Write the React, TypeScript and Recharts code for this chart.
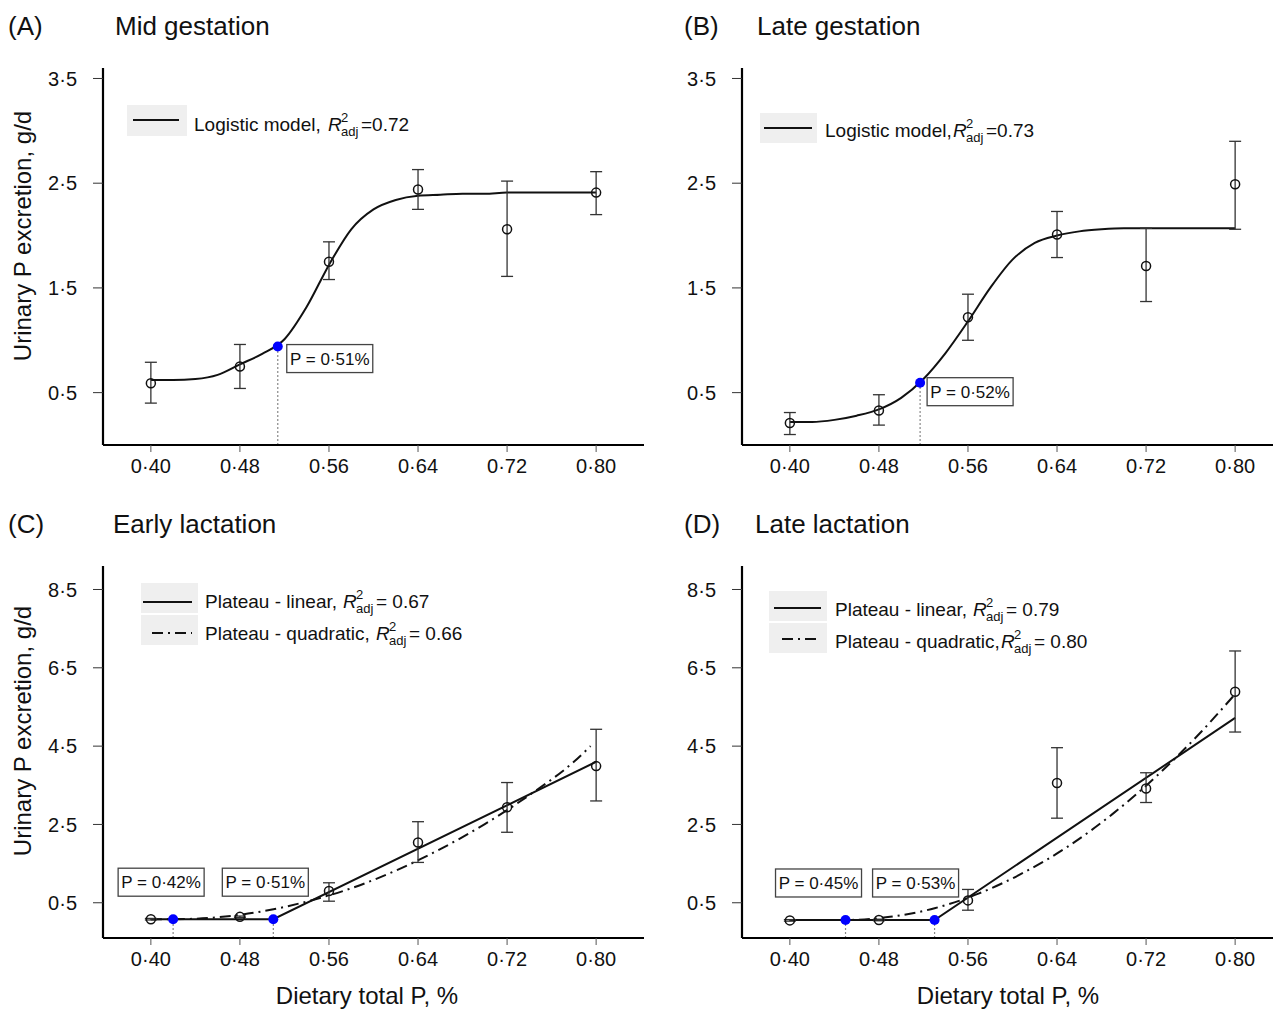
import React from 'react'
import { ComposedChart, XAxis, YAxis, Line, Scatter, ErrorBar, ReferenceLine } from 'recharts'

// dietary total P levels (%)
const dietP = [0.4, 0.48, 0.56, 0.64, 0.72, 0.8]
const xTicks = [0.4, 0.48, 0.56, 0.64, 0.72, 0.8]
const gestTicks = [0.5, 1.5, 2.5, 3.5]
const lactTicks = [0.5, 2.5, 4.5, 6.5, 8.5]

// observed urinary P, g/d (mean, lower and upper bar ends)
const midGestMean = [0.59, 0.75, 1.75, 2.44, 2.06, 2.41]
const midGestLow = [0.4, 0.54, 1.58, 2.25, 1.61, 2.2]
const midGestHigh = [0.79, 0.96, 1.94, 2.63, 2.52, 2.61]

const lateGestMean = [0.21, 0.33, 1.22, 2.01, 1.71, 2.49]
const lateGestLow = [0.1, 0.19, 1.0, 1.79, 1.37, 2.06]
const lateGestHigh = [0.31, 0.48, 1.44, 2.23, 2.07, 2.9]

const earlyLactMean = [0.08, 0.14, 0.8, 2.04, 2.94, 3.99]
const earlyLactLow = [0.06, 0.12, 0.54, 1.53, 2.3, 3.1]
const earlyLactHigh = [0.1, 0.16, 1.01, 2.57, 3.57, 4.93]

const lateLactMean = [0.05, 0.06, 0.56, 3.56, 3.42, 5.89]
const lateLactLow = [0.03, 0.04, 0.31, 2.66, 3.06, 4.86]
const lateLactHigh = [0.07, 0.08, 0.84, 4.46, 3.82, 6.93]

// fitted curves
const logisticX = [0.4, 0.42, 0.44, 0.46, 0.48, 0.5, 0.52, 0.54, 0.56, 0.58, 0.6, 0.62, 0.64, 0.66, 0.68, 0.7, 0.72, 0.74, 0.76, 0.78, 0.8]
const midGestFit = [0.62, 0.62, 0.63, 0.67, 0.77, 0.87, 1.01, 1.32, 1.72, 2.06, 2.25, 2.34, 2.38, 2.39, 2.4, 2.4, 2.41, 2.41, 2.41, 2.41, 2.41]
const lateGestFit = [0.22, 0.22, 0.24, 0.28, 0.34, 0.45, 0.63, 0.88, 1.18, 1.5, 1.77, 1.93, 2.0, 2.04, 2.06, 2.07, 2.07, 2.07, 2.07, 2.07, 2.07]

const earlyLinX = [0.4, 0.51, 0.8]
const earlyLinY = [0.08, 0.08, 4.1]
const earlyQuadX = [0.4, 0.42, 0.46, 0.5, 0.54, 0.58, 0.62, 0.66, 0.7, 0.74, 0.78, 0.795]
const earlyQuadY = [0.08, 0.08, 0.13, 0.28, 0.53, 0.87, 1.32, 1.87, 2.51, 3.25, 4.1, 4.5]

const lateLinX = [0.4, 0.53, 0.8]
const lateLinY = [0.06, 0.06, 5.22]
const lateQuadX = [0.4, 0.45, 0.49, 0.53, 0.57, 0.61, 0.65, 0.69, 0.73, 0.77, 0.8]
const lateQuadY = [0.06, 0.06, 0.14, 0.36, 0.74, 1.27, 1.94, 2.77, 3.75, 4.88, 5.83]

// breakpoints (x = P %, y = urinary P)
const midGestBreaks = [{ x: 0.514, y: 0.94, label: 'P = 0·51%' }]
const lateGestBreaks = [{ x: 0.517, y: 0.595, label: 'P = 0·52%' }]
const earlyLactBreaks = [{ x: 0.42, y: 0.08, label: 'P = 0·42%' }, { x: 0.51, y: 0.08, label: 'P = 0·51%' }]
const lateLactBreaks = [{ x: 0.45, y: 0.06, label: 'P = 0·45%' }, { x: 0.53, y: 0.06, label: 'P = 0·53%' }]

const FONT = '"Liberation Sans", Arial, sans-serif'
const DASHDOT = '11 5 2 5'

const pts = (xs: number[], ys: number[]) => xs.map((x, i) => ({ x, y: ys[i] }))
const obs = (mean: number[], lo: number[], hi: number[]) =>
  dietP.map((x, i) => ({ x, y: mean[i], err: [mean[i] - lo[i], hi[i] - mean[i]] }))

const fmtX = (v: number) => v.toFixed(2).replace('.', '·')
const fmtY = (v: number) => v.toFixed(1).replace('.', '·')

const OpenCircle = (p: any) => (
  <circle cx={p.cx} cy={p.cy} r={4.5} fill="none" stroke="#111" strokeWidth={1.5} />
)

function BreakShape(p: any) {
  const { cx, cy, payload } = p
  const { dx, dy } = payload
  return (
    <g>
      <circle cx={cx} cy={cy} r={5} fill="#0000ff" />
      <rect x={cx + dx} y={cy + dy} width={86} height={28} fill="#fff" stroke="#444" strokeWidth={1.3} />
      <text x={cx + dx + 43} y={cy + dy + 20} textAnchor="middle" fontSize={17} fontFamily={FONT} fill="#111">
        {payload.label}
      </text>
    </g>
  )
}

interface PanelProps {
  left: number
  top: number
  height: number
  marginTop: number
  xAxisHeight: number
  yAxisWidth: number
  yDomain: [number, number]
  yTicks: number[]
  observed: { x: number; y: number; err: number[] }[]
  solid: { x: number; y: number }[]
  solidType: 'monotone' | 'linear'
  dashed?: { x: number; y: number }[]
  breaks: { x: number; y: number; label: string; dx: number; dy: number }[]
}

function Panel(props: PanelProps) {
  const { left, top, height, marginTop, xAxisHeight, yAxisWidth, yDomain, yTicks, observed, solid, solidType, dashed, breaks } = props
  return (
    <div style={{ position: 'absolute', left, top }}>
      <ComposedChart width={yAxisWidth + 541} height={height} margin={{ top: marginTop, right: 0, bottom: 0, left: 0 }}>
        <XAxis dataKey="x" type="number" domain={[0.357, 0.843]} ticks={xTicks} tickFormatter={fmtX}
          axisLine={{ stroke: '#000', strokeWidth: 2.2 }} tickLine={{ stroke: '#555' }} tickSize={7} tickMargin={7}
          height={xAxisHeight} tick={{ fill: '#111', fontSize: 20, fontFamily: FONT }} allowDataOverflow />
        <YAxis dataKey="y" type="number" domain={yDomain} ticks={yTicks} tickFormatter={fmtY}
          axisLine={{ stroke: '#000', strokeWidth: 2.2 }} tickLine={{ stroke: '#333' }} tickSize={10} tickMargin={16}
          width={yAxisWidth} tick={{ fill: '#111', fontSize: 20, fontFamily: FONT }} allowDataOverflow />
        {breaks.map((b, i) => (
          <ReferenceLine key={i} segment={[{ x: b.x, y: yDomain[0] }, { x: b.x, y: b.y }]}
            stroke="#888" strokeDasharray="2 2" strokeWidth={1.2} />
        ))}
        {dashed && (
          <Line data={dashed} dataKey="y" type="monotone" stroke="#111" strokeWidth={2}
            strokeDasharray={DASHDOT} dot={false} isAnimationActive={false} />
        )}
        <Line data={solid} dataKey="y" type={solidType} stroke="#111" strokeWidth={2}
          dot={false} isAnimationActive={false} />
        <Scatter data={observed} dataKey="y" shape={OpenCircle} isAnimationActive={false}>
          <ErrorBar dataKey="err" direction="y" width={6} stroke="#333" strokeWidth={1.3} />
        </Scatter>
        <Scatter data={breaks} dataKey="y" shape={BreakShape} isAnimationActive={false} />
      </ComposedChart>
    </div>
  )
}

// legend label with italic R, superscript 2 and subscript adj stacked
function RLabel({ x, y, prefix, suffix, prefixWidth }: { x: number; y: number; prefix: string; suffix: string; prefixWidth: number }) {
  const t = { fontFamily: FONT, fill: '#111' }
  const rx = x + prefixWidth
  return (
    <g>
      <text x={x} y={y} fontSize={19} {...t}>{prefix}</text>
      <text x={rx} y={y} fontSize={19} fontStyle="italic" {...t}>R</text>
      <text x={rx + 13} y={y - 9} fontSize={13} {...t}>2</text>
      <text x={rx + 13} y={y + 5} fontSize={13} {...t}>adj</text>
      <text x={rx + 33} y={y} fontSize={19} {...t}>{suffix}</text>
    </g>
  )
}

function Overlay() {
  const title = { fontSize: 26, fontFamily: FONT, fill: '#111' }
  const axisTitle = { fontSize: 24, fontFamily: FONT, fill: '#111' }
  return (
    <svg width={1273} height={1010} style={{ position: 'absolute', left: 0, top: 0, pointerEvents: 'none' }}>
      <text x={8} y={35} {...title}>(A)</text>
      <text x={115} y={35} {...title}>Mid gestation</text>
      <text x={684} y={35} {...title}>(B)</text>
      <text x={757} y={35} {...title}>Late gestation</text>
      <text x={8} y={533} {...title}>(C)</text>
      <text x={113} y={533} {...title}>Early lactation</text>
      <text x={684} y={533} {...title}>(D)</text>
      <text x={755} y={533} {...title}>Late lactation</text>

      <text x={31} y={236} textAnchor="middle" transform="rotate(-90 31 236)" {...axisTitle}>Urinary P excretion, g/d</text>
      <text x={31} y={731} textAnchor="middle" transform="rotate(-90 31 731)" {...axisTitle}>Urinary P excretion, g/d</text>
      <text x={367} y={1004} textAnchor="middle" {...axisTitle}>Dietary total P, %</text>
      <text x={1008} y={1004} textAnchor="middle" {...axisTitle}>Dietary total P, %</text>

      {/* legend A */}
      <rect x={127} y={105} width={60} height={31} fill="#efefef" />
      <line x1={133} x2={179} y1={120} y2={120} stroke="#111" strokeWidth={2} />
      <RLabel x={194} y={131} prefix="Logistic model," prefixWidth={134} suffix="=0.72" />
      {/* legend B */}
      <rect x={760} y={113} width={57} height={30} fill="#efefef" />
      <line x1={764} x2={812} y1={128} y2={128} stroke="#111" strokeWidth={2} />
      <RLabel x={825} y={137} prefix="Logistic model," prefixWidth={128} suffix="=0.73" />
      {/* legend C */}
      <rect x={141} y={583} width={57} height={30} fill="#efefef" />
      <rect x={141} y={615} width={57} height={30} fill="#efefef" />
      <line x1={143} x2={192} y1={602} y2={602} stroke="#111" strokeWidth={2} />
      <line x1={152} x2={192} y1={633} y2={633} stroke="#111" strokeWidth={2} strokeDasharray={DASHDOT} />
      <RLabel x={205} y={608} prefix="Plateau - linear," prefixWidth={138} suffix="= 0.67" />
      <RLabel x={205} y={640} prefix="Plateau - quadratic," prefixWidth={171} suffix="= 0.66" />
      {/* legend D */}
      <rect x={769} y={591} width={58} height={30} fill="#efefef" />
      <rect x={769} y={623} width={58} height={30} fill="#efefef" />
      <line x1={774} x2={821} y1={608} y2={608} stroke="#111" strokeWidth={2} />
      <line x1={782} x2={821} y1={639} y2={639} stroke="#111" strokeWidth={2} strokeDasharray={DASHDOT} />
      <RLabel x={835} y={616} prefix="Plateau - linear," prefixWidth={138} suffix="= 0.79" />
      <RLabel x={835} y={648} prefix="Plateau - quadratic," prefixWidth={166} suffix="= 0.80" />
    </svg>
  )
}

export default function App() {
  return (
    <div style={{ position: 'absolute', left: 0, top: 0, width: 1273, height: 1010, overflow: 'hidden', background: '#fff', fontFamily: FONT }}>
      <Panel left={0} top={0} height={500} marginTop={68} xAxisHeight={55} yAxisWidth={103}
        yDomain={[0, 3.6]} yTicks={gestTicks}
        observed={obs(midGestMean, midGestLow, midGestHigh)}
        solid={pts(logisticX, midGestFit)} solidType="monotone"
        breaks={midGestBreaks.map((b) => ({ ...b, dx: 9, dy: -2 }))} />
      <Panel left={640} top={0} height={500} marginTop={68} xAxisHeight={55} yAxisWidth={102}
        yDomain={[0, 3.6]} yTicks={gestTicks}
        observed={obs(lateGestMean, lateGestLow, lateGestHigh)}
        solid={pts(logisticX, lateGestFit)} solidType="monotone"
        breaks={lateGestBreaks.map((b) => ({ ...b, dx: 7, dy: -5 }))} />
      <Panel left={0} top={500} height={510} marginTop={66} xAxisHeight={72} yAxisWidth={103}
        yDomain={[-0.4, 9.1]} yTicks={lactTicks}
        observed={obs(earlyLactMean, earlyLactLow, earlyLactHigh)}
        solid={pts(earlyLinX, earlyLinY)} solidType="linear"
        dashed={pts(earlyQuadX, earlyQuadY)}
        breaks={earlyLactBreaks.map((b, i) => ({ ...b, dx: i === 0 ? -55 : -51, dy: -51 }))} />
      <Panel left={640} top={500} height={510} marginTop={66} xAxisHeight={72} yAxisWidth={102}
        yDomain={[-0.4, 9.1]} yTicks={lactTicks}
        observed={obs(lateLactMean, lateLactLow, lateLactHigh)}
        solid={pts(lateLinX, lateLinY)} solidType="linear"
        dashed={pts(lateQuadX, lateQuadY)}
        breaks={lateLactBreaks.map((b, i) => ({ ...b, dx: i === 0 ? -70 : -62, dy: -51 }))} />
      <Overlay />
    </div>
  )
}
